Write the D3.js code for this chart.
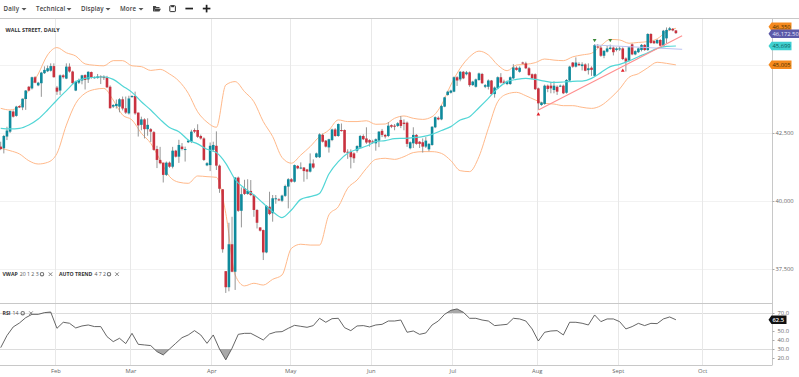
<!DOCTYPE html>
<html lang='en'>
	<head>
		<title>Wall Street Daily</title>
		<script type='text/javascript' src='https://cdn.jsdelivr.net/npm/d3@7'></script>
		<style>
			html, body { margin: 0; padding: 0; background: #fff; overflow: hidden; }
			text { font-family: 'Open Sans', sans-serif; }
		</style>
	</head>
	<body>
		<script type='text/javascript'>
			// open, close, high, low for each session
			var ohlc = [
				[42000,41910,42180,41870],[41940,42390,42430,41750],[42370,42590,42730,42240],[42550,43310,43330,42500],[43290,43100,43330,43070],[43130,43470,43500,43100],[43490,43440,43510,43420],[43440,43760,43770,43340],[43750,44060,44080,43350],[44200,44060,44230,44030],
				[44140,44550,44570,44100],[44550,44350,44590,44330],[44250,44350,44380,44220],[44330,44720,44750,43830],[44700,44820,44950,44670],[44770,44880,44980,44740],[44790,44960,45060,44760],[44960,44550,45060,44540],[44170,44020,44230,43900],[44060,44620,44650,43900],
				[44620,44550,44660,44500],[44500,44940,45060,44480],[44940,44760,45060,44720],[44760,44330,44790,44300],[44060,44390,44420,44040],[44350,44450,44500,44300],[44430,44620,44640,44290],[44630,44450,44660,44100],[44470,44750,44770,44340],[44740,44550,44760,44500],
				[44520,44550,44580,44500],[44520,44580,44670,44500],[44580,44550,44620,44300],[44570,44520,44620,44450],[44550,44180,44600,44150],[44200,43410,44250,43400],[43470,43530,43560,43420],[43490,43570,43730,43400],[43470,43740,43780,43260],[43740,43400,43840,43330],
				[43410,43250,43840,43200],[43220,43770,43870,43180],[43820,43860,43890,43800],[43860,43220,44020,43170],[43250,42780,43250,42370],[42800,43000,43100,42600],[43000,42640,43040,42300],[42640,42800,43040,42400],[42640,42550,42680,42170],[42530,41880,42570,41850],
				[41910,41510,42030,41210],[41510,41390,41990,41350],[41410,40960,41410,40680],[40960,41410,41450,40920],[41410,41260,41450,41220],[41260,41850,41990,41200],[41850,41630,41880,41600],[41630,42060,42250,41400],[42000,41910,42130,41860],[41890,41910,42000,41450],
				[42160,42220,42250,42130],[42180,42550,42620,42130],[42610,42550,42670,42500],[42610,42360,42820,42320],[42390,42300,42440,42260],[42300,41510,42340,41470],[41310,41390,41430,41280],[41320,42030,42150,41100],[41880,42060,42180,41810],[42030,41300,42560,41140],
				[41300,40450,41340,40300],[40430,38225,40440,38100],[37420,36830,37420,36620],[36830,38410,39200,36680],[38410,37400,39420,37380],[37400,40860,40880,36730],[40860,39640,40900,39600],[39640,40250,40500,39030],[40470,40260,40780,40220],[40260,40370,40800,40230],
				[40370,40220,40770,40180],[40220,39670,40250,39420],[39670,39200,39700,38990],[39030,38910,39030,38880],[38930,38110,38950,37830],[38110,39820,39850,38080],[39790,39520,40340,39480],[39550,40100,40220,39240],[40080,40100,40220,39900],[40060,40030,40100,40000],
				[40010,40200,40230,39960],[40190,40550,40600,40150],[40530,40800,40840,39730],[40800,40710,40840,40680],[40710,41320,41340,40680],[41290,41200,41320,41170],[41200,41230,41420,41170],[41230,41100,41250,40710],[41160,41080,41180,40800],[41080,41380,41750,41050],
				[41380,41230,41530,41190],[41610,41750,41780,41580],[41610,42450,42490,41580],[42430,42180,42480,42150],[42220,42000,42240,41970],[41970,42270,42290,41780],[42240,42630,42660,42200],[42630,42390,42680,42360],[42390,42830,42850,42360],[42610,42570,42850,42550],
				[42610,41790,42630,41760],[41810,41780,41900,41550],[41810,41610,41900,41200],[41750,41570,41790,41400],[41850,42020,42050,41780],[41970,42390,42430,41950],[42390,42270,42450,42240],[42300,42150,42710,42100],[42240,42150,42270,42000],[42190,42150,42250,42100],
				[42120,42270,42300,41850],[42220,42550,42570,41980],[42580,42430,42650,42350],[42430,42370,42460,42300],[42390,42770,42900,42350],[42790,42730,42820,42680],[42770,42730,42830,42600],[42760,42860,42900,42720],[42980,42760,43120,42680],[42880,42830,43000,42600],
				[42880,42100,42920,41990],[41940,42160,42190,41900],[42120,42430,42710,41950],[42430,42100,42460,42070],[42180,42100,42200,41950],[42160,42000,42300,41780],[42000,42220,42350,41950],[41900,42100,42130,41830],[42060,42730,42750,42030],[42710,43080,43110,42680],
				[43060,43000,43110,42970],[43000,43490,43530,42970],[43470,43810,43830,43450],[43900,44020,44050,43870],[43980,44060,44090,43950],[44020,44550,44580,44000],[44550,44430,44590,44230],[44470,44750,44780,44400],[44750,44510,44780,44480],[44660,44730,44780,44620],
				[44730,44260,44760,44200],[44260,44390,44420,44230],[44200,44470,44500,44170],[44450,44690,44720,44420],[44670,44330,44710,44300],[44200,44260,44300,44150],[44200,44430,44470,44100],[44430,43930,44450,43900],[43930,44170,44210,43800],[44140,44550,44580,44110],
				[44550,44350,44700,44320],[44390,44330,44460,44290],[44300,44390,44430,44260],[44300,44550,44580,44270],[44510,44910,45030,44480],[44900,44820,44950,44790],[44750,44900,44950,44720],[45090,45060,45120,45040],[45060,44880,45120,44850],[44880,44630,44930,44600],
				[44660,44510,44690,44480],[44660,44110,44690,44080],[44140,43590,44170,43350],[43530,43620,43650,43500],[43570,44240,44280,43540],[44240,44120,44280,44000],[44240,44140,44380,43960],[44080,44240,44400,43960],[44200,44020,44250,43900],[44210,44240,44280,44190],
				[44240,43960,44280,43930],[43980,44450,44480,43950],[44430,44940,44970,44400],[45090,44940,45110,44900],[44940,45090,45280,44910],[45040,44990,45100,44960],[44960,45020,45100,44800],[45020,44790,45060,44770],[44810,44880,45060,44650],[44900,44820,44950,44600],
				[44600,45730,45770,44570],[45680,45650,45770,45620],[45640,45340,45700,45300],[45340,45520,45550,45250],[45490,45610,45700,45460],[45590,45640,45750,45560],[45640,45470,45680,45350],[45550,45610,45650,45500],[45580,45610,45680,45520],[45610,45220,45650,45180],
				[45240,45120,45280,44760],[45160,45650,45680,45130],[45760,45390,45790,45360],[45390,45510,45540,45360],[45470,45610,45640,45440],[45550,45740,45770,45500],[45740,45550,45770,45520],[45550,46140,46170,45520],[46140,45810,46170,45780],[45880,45800,45910,45770],
				[45800,45920,45950,45770],[45920,45710,45950,45680],[45710,46260,46290,45680],[45980,46290,46380,45800],[46290,46350,46400,46260],[46330,46270,46360,46240],[46270,46172.5,46290,46140]
			];
			// bollinger bands, read every third session
			var bb_upper = [43408,43346,43490,44100,44670,45370,45640,45450,45330,45040,44990,44970,45160,45160,44970,44940,44800,44840,44670,44410,43960,43280,42900,42710,44265,44390,44020,43650,42920,42370,41600,41390,41690,42000,42370,42610,42980,42920,42920,42950,42820,42830,43040,43126,43040,43000,43100,43530,44265,44880,45300,45510,45370,45000,44790,45000,45025,45086,45220,45180,45160,45300,45370,45430,45710,45940,45920,45800,45830,45860,45960,46225,46350];
			var bb_mid = [42670,42650,42670,42795,43015,43346,43714,44057,44390,44510,44550,44560,44470,44230,43995,43650,43346,43000,42700,42550,42245,42100,41900,41780,41385,40790,40467,40222,39915,39610,39390,39670,40060,40160,40280,40995,41447,41753,41900,42020,42180,42220,42290,42305,42330,42365,42450,42590,42735,42980,43100,43430,43775,44140,44390,44470,44510,44470,44410,44360,44375,44400,44410,44510,44720,44940,45025,45150,45305,45450,45610,45686,45699];
			var bb_lower = [41938,41850,41730,41480,41360,41420,41750,42790,43590,43960,44100,44140,43710,43160,42980,42490,42120,41510,40900,40690,40650,40920,40895,40870,39548,37280,36880,36975,36910,37120,37280,38260,38410,38380,38380,39490,39790,40470,40770,41200,41530,41570,41530,41630,41780,41815,41815,41750,41485,41115,41080,41630,42670,43650,43935,43995,43870,43715,43590,43565,43505,43505,43445,43405,43506,43775,44120,44548,44680,44900,45100,45060,45005];
			// rsi 14, read every second session
			var rsi_values = [31.5,44.9,54.5,58.9,64.8,68.5,68.5,70.4,71.1,53,59.7,58.6,53.4,55.6,56.7,54.9,54.9,43.8,38.2,41.9,36,47.4,35.2,34.5,33.8,27.1,23.4,30,36.3,42.6,45.6,50.4,45.6,36.3,45.6,30,17.9,30.8,46.3,47.4,47.4,43.8,40,46.7,48.9,49.3,53,56.3,55.2,54.1,56,64.1,59.7,63.7,64.1,53.7,50.4,55.6,56,54.5,56.7,57.4,61.1,61.1,62.2,48.6,50,46.3,47.8,56.7,61.1,68.5,73,74.5,70.8,64.1,64.1,62.2,61.1,56,56.7,57.4,64.1,63.4,61.1,52.3,38.9,48.6,50,50.4,45.6,59.7,59.7,58.6,56.7,67.8,60.4,63.4,63.4,60.4,52.3,54.9,58.5,56,58.5,58.2,63.4,65.6,62.5];

			var month_labels = ['Feb','Mar','Apr','May','Jun','Jul','Aug','Sept','Oct'];
			var month_pos = [17.5,41.5,67.4,92.6,118.4,144.5,171.5,197.4,224.4];
			// the 45,000 and 60.0 labels sit under the value tags, so only their gridline and tick stay
			var price_grid = [37500,40000,42500,45000];
			var price_ticks = [37500,40000,42500];
			var rsi_ticks = [20,30,40,50,70];
			var rsi_grid = [30,70];

			// auto trend lines [session, price] and pivots
			var trend_up = [[172,43346],[218,46077]];
			var trend_flat = [[190,45735],[218,45577]];
			var pivots_low = [[172,43180],[199,44790]];
			var pivots_high = [[190,45920],[195,45920]];

			// last value tags
			var tag_values = [46350,46172.5,45699,45005];
			var tag_labels = ['46,350','46,172.50','45,699','45,005'];
			var tag_fills = ['#f58a1f','#5c5aa8','#3fd0d0','#f58a1f'];
			var tag_text = ['#4a3000','#e8e8ff','#0c5a5a','#4a3000'];
			var tag_widths = [23,31,23,23];
			var tag_nudge = [-1.6,0.6,0,0];

			var width = 799, height = 377;
			var plot_right = 772, top_y = 18.5, panel_y = 303.5, bottom_y = 365.5;
			var color_up = '#0f8a9c', color_down = '#c9323f', color_wick = '#8a8a8a';

			var svg_elem = d3.select('body').append('svg').attr('width', width).attr('height', height).style('display', 'block')

			var x_scale = d3.scaleLinear().domain([0,216]).range([0.7,675.9])
			var y_scale = d3.scaleLinear().domain([37500,45000]).range([269,65])
			var rsi_scale = d3.scaleLinear().domain([20,70]).range([358,313])

			// grid
			svg_elem.selectAll('.hgrid').data(price_grid).enter().append('line').attr('class','hgrid')
				.attr('x1', 0).attr('x2', plot_right)
				.attr('y1', d => Math.round(y_scale(d))+0.5).attr('y2', d => Math.round(y_scale(d))+0.5)
				.attr('stroke', '#f2f2f2')
			svg_elem.selectAll('.rgrid').data(rsi_grid).enter().append('line').attr('class','rgrid')
				.attr('x1', 0).attr('x2', plot_right)
				.attr('y1', d => Math.round(rsi_scale(d))+0.5).attr('y2', d => Math.round(rsi_scale(d))+0.5)
				.attr('stroke', '#dcdcdc')
			svg_elem.selectAll('.vgrid').data(month_pos).enter().append('line').attr('class','vgrid')
				.attr('x1', d => Math.round(x_scale(d))+0.5).attr('x2', d => Math.round(x_scale(d))+0.5)
				.attr('y1', top_y).attr('y2', bottom_y)
				.attr('stroke', '#e8e8e8')

			// panel borders
			var border_ys = [top_y, panel_y, bottom_y];
			svg_elem.selectAll('.border').data(border_ys).enter().append('line').attr('class','border')
				.attr('x1', 0).attr('x2', d => d == top_y ? width : plot_right).attr('y1', d => d).attr('y2', d => d)
				.attr('stroke', '#c8c8c8')
			svg_elem.append('line').attr('x1', plot_right+0.5).attr('x2', plot_right+0.5).attr('y1', top_y).attr('y2', bottom_y).attr('stroke', '#c8c8c8')

			// axes
			var price_axis = svg_elem.append('g').attr('transform', 'translate('+(plot_right+0.5)+',0)')
				.call(d3.axisRight(y_scale).tickValues(price_ticks).tickFormat(d3.format(',')).tickSize(2).tickPadding(1))
			var rsi_axis = svg_elem.append('g').attr('transform', 'translate('+(plot_right+0.5)+',0)')
				.call(d3.axisRight(rsi_scale).tickValues(rsi_ticks).tickFormat(d3.format('.1f')).tickSize(2).tickPadding(3))
			var month_axis = svg_elem.append('g').attr('transform', 'translate(0,'+bottom_y+')')
				.call(d3.axisBottom(x_scale).tickValues(month_pos).tickFormat((d,i) => month_labels[i]).tickSize(0).tickPadding(3))
			;[price_axis, rsi_axis, month_axis].forEach(function(a) {
				a.select('.domain').remove()
				a.selectAll('line').attr('stroke', '#aaa')
				a.selectAll('text').attr('font-size', 5.8).attr('font-family', "'Open Sans', sans-serif").attr('fill', '#666')
			})

			// bollinger lines
			var band_line = d3.line().x((d,i) => x_scale(i*3)).y(d => y_scale(d)).curve(d3.curveMonotoneX)
			svg_elem.append('path').attr('d', band_line(bb_upper)).attr('fill', 'none').attr('stroke', '#ffb98a').attr('stroke-width', 1)
			svg_elem.append('path').attr('d', band_line(bb_lower)).attr('fill', 'none').attr('stroke', '#ffb98a').attr('stroke-width', 1)

			// candles
			var candle_w = 2.6;
			svg_elem.selectAll('.wick').data(ohlc).enter().append('line').attr('class','wick')
				.attr('x1', (d,i) => x_scale(i)).attr('x2', (d,i) => x_scale(i))
				.attr('y1', d => y_scale(d[2])).attr('y2', d => y_scale(d[3]))
				.attr('stroke', color_wick).attr('stroke-width', 0.9)
			svg_elem.selectAll('.body').data(ohlc).enter().append('rect').attr('class','body')
				.attr('x', (d,i) => x_scale(i)-candle_w/2).attr('width', candle_w)
				.attr('y', d => y_scale(Math.max(d[0],d[1])))
				.attr('height', d => Math.max(1, Math.abs(y_scale(d[0])-y_scale(d[1]))))
				.attr('fill', d => d[1] >= d[0] ? color_up : color_down)

			svg_elem.append('path').attr('d', band_line(bb_mid)).attr('fill', 'none').attr('stroke', '#52d6d6').attr('stroke-width', 1.2)

			// auto trend
			var trend_line = d3.line().x(d => x_scale(d[0])).y(d => y_scale(d[1]))
			svg_elem.append('path').attr('d', trend_line(trend_flat)).attr('fill', 'none').attr('stroke', '#bcc4f2').attr('stroke-width', 1)
			svg_elem.append('path').attr('d', trend_line(trend_up)).attr('fill', 'none').attr('stroke', '#ff8f8f').attr('stroke-width', 1.1)
			var triangle = d3.symbol().type(d3.symbolTriangle).size(6)
			svg_elem.selectAll('.plow').data(pivots_low).enter().append('path').attr('class','plow').attr('d', triangle)
				.attr('transform', d => 'translate('+x_scale(d[0])+','+y_scale(d[1])+')').attr('fill', '#e0202a')
			svg_elem.selectAll('.phigh').data(pivots_high).enter().append('path').attr('class','phigh').attr('d', triangle)
				.attr('transform', d => 'translate('+x_scale(d[0])+','+y_scale(d[1])+') rotate(180)').attr('fill', '#3a8a3a')

			// rsi with the parts past 70 and 30 filled
			var rsi_line = d3.line().x((d,i) => x_scale(i*2)).y(d => rsi_scale(d))
			var defs = svg_elem.append('defs')
			defs.append('clipPath').attr('id', 'clip_high').append('rect').attr('x', 0).attr('width', plot_right).attr('y', panel_y).attr('height', rsi_scale(70)-panel_y)
			defs.append('clipPath').attr('id', 'clip_low').append('rect').attr('x', 0).attr('width', plot_right).attr('y', rsi_scale(30)).attr('height', bottom_y-rsi_scale(30))
			svg_elem.append('path').attr('clip-path', 'url(#clip_high)').attr('fill', '#a8a8a8')
				.attr('d', d3.area().x((d,i) => x_scale(i*2)).y0(rsi_scale(70)).y1(d => rsi_scale(d))(rsi_values))
			svg_elem.append('path').attr('clip-path', 'url(#clip_low)').attr('fill', '#a8a8a8')
				.attr('d', d3.area().x((d,i) => x_scale(i*2)).y0(rsi_scale(30)).y1(d => rsi_scale(d))(rsi_values))
			svg_elem.append('path').attr('d', rsi_line(rsi_values)).attr('fill', 'none').attr('stroke', '#555').attr('stroke-width', 0.9)

			// value tags
			function draw_tag(y, w, fill, text_fill, label, bold) {
				var x0 = 768.5, h = 8.5;
				svg_elem.append('path')
					.attr('d', 'M'+x0+','+y+'L'+(x0+3)+','+(y-h/2)+'H'+(x0+w)+'V'+(y+h/2)+'H'+(x0+3)+'Z')
					.attr('fill', fill)
				svg_elem.append('text').attr('x', x0+4).attr('y', y+2).attr('font-size', 5.8).attr('fill', text_fill)
					.attr('font-weight', bold ? 600 : 400).text(label)
			}
			tag_values.forEach((v,i) => draw_tag(y_scale(v)+tag_nudge[i], tag_widths[i], tag_fills[i], tag_text[i], tag_labels[i], false))
			draw_tag(rsi_scale(rsi_values[rsi_values.length-1]), 18, '#111', '#fff', '62.5', true)

			// indicator legends
			function draw_label(x, y, bold, rest, gear_x, cross_x) {
				var t = svg_elem.append('text').attr('x', x).attr('y', y).attr('font-size', 5.2).attr('fill', '#555')
				t.append('tspan').attr('font-weight', 700).attr('fill', '#333').text(bold)
				t.append('tspan').attr('dx', 2).text(rest)
				svg_elem.append('circle').attr('cx', gear_x).attr('cy', y-1.8).attr('r', 1.7).attr('fill', 'none').attr('stroke', '#777').attr('stroke-width', 1.1)
				svg_elem.append('path').attr('d', 'M'+(cross_x-1.8)+','+(y-3.6)+'l3.6,3.6M'+(cross_x+1.8)+','+(y-3.6)+'l-3.6,3.6').attr('stroke', '#777').attr('stroke-width', 0.9)
			}
			svg_elem.append('text').attr('x', 5.5).attr('y', 32).attr('font-size', 5.4).attr('font-weight', 700).attr('fill', '#333').text('WALL STREET, DAILY')
			draw_label(2.5, 276, 'VWAP', '20 1 2 3', 42, 50.5)
			draw_label(59, 276, 'AUTO TREND', '4 7 2', 109, 117)
			draw_label(2.5, 315, 'RSI', '14', 22.7, 31)

			// toolbar
			var menu_items = ['Daily','Technical','Display','More'];
			var menu_x = [3.5,36,81,120];
			var caret_x = [24,69,108,141];
			svg_elem.selectAll('.menu').data(menu_items).enter().append('text').attr('class','menu')
				.attr('x', (d,i) => menu_x[i]).attr('y', 11.2).attr('font-size', 6.2).attr('font-weight', 600).attr('letter-spacing', 0.15).attr('fill', '#444').text(d => d)
			svg_elem.selectAll('.caret').data(caret_x).enter().append('path').attr('class','caret')
				.attr('d', d => 'M'+(d-2.5)+',8 h5 l-2.5,2.6 z').attr('fill', '#555')
			// folder, save, minus, plus
			svg_elem.append('path').attr('d', 'M153,6h2.6l0.9,1h3v1.2h-4.2l-1.6,3.2h-0.7zM155.2,8.8h5.8l-1.6,2.8h-5.4z').attr('fill', '#444')
			svg_elem.append('rect').attr('x', 169.8).attr('y', 5.8).attr('width', 5.6).attr('height', 5.8).attr('fill', 'none').attr('stroke', '#333').attr('stroke-width', 1).attr('rx', 0.6)
			svg_elem.append('rect').attr('x', 171.2).attr('y', 5.4).attr('width', 2.8).attr('height', 1.8).attr('fill', '#333')
			svg_elem.append('rect').attr('x', 185.4).attr('y', 7.7).attr('width', 7.6).attr('height', 1.7).attr('fill', '#222')
			svg_elem.append('rect').attr('x', 202.8).attr('y', 7.7).attr('width', 7.6).attr('height', 1.7).attr('fill', '#222')
			svg_elem.append('rect').attr('x', 205.75).attr('y', 4.8).attr('width', 1.7).attr('height', 7.6).attr('fill', '#222')
		</script>
	</body>
</html>
